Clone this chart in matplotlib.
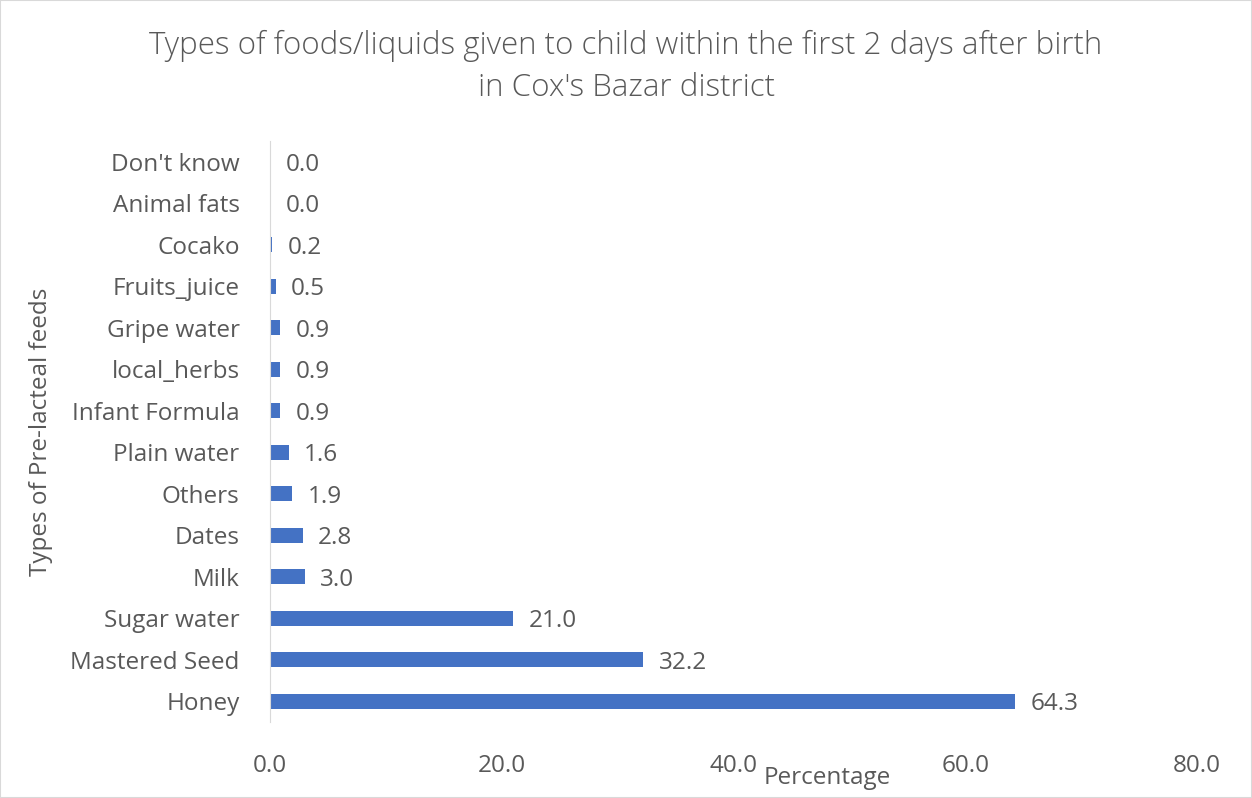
import matplotlib.pyplot as plt
from matplotlib.patches import Rectangle

# Pre-lacteal feed types and percentages (bottom to top)
categories = ['Honey', 'Mastered Seed', 'Sugar water', 'Milk', 'Dates', 'Others',
              'Plain water', 'Infant Formula', 'local_herbs', 'Gripe water',
              'Fruits_juice', 'Cocako', 'Animal fats', "Don't know"]
values = [64.3, 32.2, 21.0, 3.0, 2.8, 1.9, 1.6, 0.9, 0.9, 0.9, 0.5, 0.2, 0.0, 0.0]
xticks = [0, 20, 40, 60, 80]

grey = '#595959'
bar_color = '#4472C4'
plt.rcParams['font.family'] = ['Open Sans', 'DejaVu Sans']

fig = plt.figure(figsize=(12.52, 7.98), dpi=100)
ax = fig.add_axes([0.2157, 0.0952, 0.7404, 0.7281])

pos = range(len(categories))
ax.barh(pos, values, height=0.36, color=bar_color)
for p, v in zip(pos, values):
    ax.annotate(f'{v:.1f}', (v, p), xytext=(11, -2), textcoords='offset points',
                va='center', ha='left', fontsize=17.5, color=grey)

ax.set_xlim(0, 80)
ax.set_ylim(-0.5, len(categories) - 0.5)
ax.set_yticks(list(pos))
ax.set_yticklabels(categories, fontsize=17.5, color=grey)
ax.set_xticks(xticks)
ax.set_xticklabels([f'{t:.1f}' for t in xticks], fontsize=17.5, color=grey)
ax.tick_params(length=0)
ax.tick_params(axis='x', pad=23)
ax.tick_params(axis='y', pad=22)
for s in ['top', 'right', 'bottom']:
    ax.spines[s].set_visible(False)
ax.spines['left'].set_color('#d9d9d9')

ax.set_ylabel('Types of Pre-lacteal feeds', fontsize=17.5, color=grey, labelpad=12)
fig.text(0.661, 0.025, 'Percentage', fontsize=17.5, color=grey, ha='center', va='center')

fig.suptitle("Types of foods/liquids given to child within the first 2 days after birth\nin Cox's Bazar district",
             x=0.5, y=0.962, fontsize=22.5, color=grey, fontweight='light', linespacing=1.4)

fig.patches.append(Rectangle((0, 0), 1, 1, transform=fig.transFigure, fill=False,
                             edgecolor='#d9d9d9', linewidth=1.5))

fig.savefig('out.png', dpi=100)
